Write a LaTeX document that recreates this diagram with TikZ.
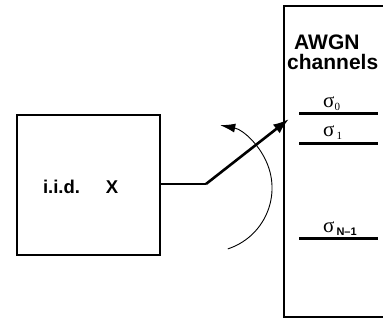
\documentclass[tikz,border=0pt]{standalone}
\usepackage{fontspec}
\setmainfont{Liberation Sans}
\newfontfamily\greekfont{Liberation Serif}
\usetikzlibrary{positioning,arrows.meta}

\tikzset{
  blk/.style={draw, line width=1.6pt, inner sep=0pt},
  lbl/.style={font=\fontsize{18.5}{22}\selectfont\bfseries, inner sep=0pt},
  head/.style={font=\fontsize{21}{24}\selectfont\bfseries, inner sep=0pt, anchor=base west},
  sig/.style={font=\fontsize{21}{24}\selectfont\greekfont, inner sep=0pt, anchor=base west},
  chanline/.style={line width=3pt},
}
\newcommand{\chsub}[1]{\raisebox{-3pt}{\fontsize{11}{12}\selectfont #1}}

\begin{document}
\begin{tikzpicture}[x=1pt, y=1pt]
  \useasboundingbox (0,0) rectangle (383,320);
  \clip (0,0) rectangle (383,320);

  % source block and channel bank
  \node[blk, minimum width=143pt, minimum height=140pt] (src) at (88.5,135) {};
  \node[blk, minimum width=130pt, minimum height=311pt, anchor=north west] (chan) at (283,315) {};

  \node[lbl] (iid) at (61.5,133) {i.i.d.};
  \node[lbl] (xx) at (112,133) {X};

  \node[head] (awgn) at (294,270) {AWGN};
  \node[head] (chtxt) at (287,250) {channels};

  % the channels
  \draw[chanline] (299,206) -- (378,206);
  \draw[chanline] (299,176) -- (378,176);
  \draw[chanline] (299,81) -- (378,81);
  \node[sig] (s0) at (323,212) {σ\chsub{0}};
  \node[sig] (s1) at (323,183) {σ\kern2pt\chsub{1}};
  \node[sig] (sn) at (323,87) {σ\kern2pt\chsub{\rmfamily\bfseries N--1}};

  % switch
  \coordinate (bend) at (206,136);
  \coordinate (tip) at (289,201);
  \draw[line width=1.6pt] (src.east |- bend) -- (bend);
  \draw[line width=2.6pt, -{Latex[length=16pt, width=11pt]}] (bend) -- (tip);

  % rotation
  \coordinate (arcstart) at (227.8,71.1);
  \draw[line width=0.9pt, -{Latex[length=15pt, width=9pt]}] (arcstart) arc[start angle=-72, end angle=79, radius=64];
\end{tikzpicture}
\end{document}
